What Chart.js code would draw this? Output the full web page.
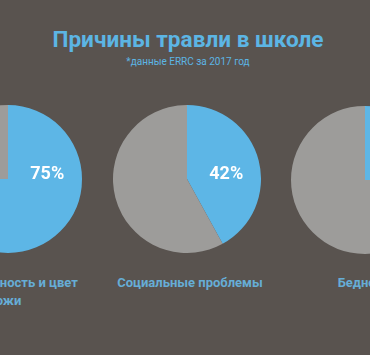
<!DOCTYPE html>
<html>
<head>
<meta charset="utf-8">
<script src="https://cdn.jsdelivr.net/npm/chart.js@4"></script>
<style>
  html, body { margin:0; padding:0; }
  body { width:370px; height:355px; overflow:hidden; background:#59534f; position:relative; font-family: Roboto, "Noto Sans", sans-serif; }
  .title { position:absolute; left:3px; width:370px; top:29.2px; text-align:center; font-size:22.6px; line-height:22px; font-weight:bold; color:#5cb5e4; white-space:nowrap; }
  .sub { position:absolute; left:3px; width:370px; top:56.6px; text-align:center; font-size:10px; line-height:10px; color:#5cb5e4; white-space:nowrap; }
  .pie { position:absolute; width:148px; height:148px; }
  .cat { position:absolute; top:274px; width:160px; text-align:center; font-size:13px; line-height:18px; font-weight:bold; color:#66add6; }
</style>
</head>
<body>
<div class="title">Причины травли в школе</div>
<div class="sub">*данные ERRC за 2017 год</div>
<div id="wrap"></div>
<script>
const categories = ["Национальность и цвет кожи", "Социальные проблемы", "Бедность"];
const shares = [75, 42, 25];
const restShares = [25, 58, 75];

const blue = "#5db6e6";
const gray = "#9d9c9a";
const centersX = [8, 187, 365];
const centersY = [179, 179, 180];
const labelShift = [-3, 3, 2];
const R = 74;

const pctLabels = {
  id: "pctLabels",
  afterDatasetsDraw(chart) {
    const arc = chart.getDatasetMeta(0).data[0];
    const ctx = chart.ctx;
    ctx.save();
    ctx.fillStyle = "#ffffff";
    ctx.font = "bold 18px Roboto, sans-serif";
    ctx.textAlign = "center";
    ctx.textBaseline = "alphabetic";
    ctx.fillText(chart.data.datasets[0].data[0] + "%", arc.x + arc.outerRadius * 0.53, arc.y + 0.3);
    ctx.restore();
  }
};

const wrap = document.getElementById("wrap");
categories.forEach((cat, i) => {
  const cv = document.createElement("canvas");
  cv.width = 2 * R; cv.height = 2 * R;
  cv.className = "pie";
  cv.style.left = (centersX[i] - R) + "px";
  cv.style.top = (centersY[i] - R) + "px";
  wrap.appendChild(cv);
  new Chart(cv, {
    type: "pie",
    data: {
      labels: [cat, "другое"],
      datasets: [{ data: [shares[i], restShares[i]], backgroundColor: [blue, gray], borderWidth: 0 }]
    },
    options: {
      responsive: false,
      animation: false,
      layout: { padding: 0 },
      plugins: { legend: { display: false }, tooltip: { enabled: false } }
    },
    plugins: [pctLabels]
  });
  const lab = document.createElement("div");
  lab.className = "cat";
  lab.textContent = cat;
  lab.style.left = (centersX[i] + labelShift[i] - 80) + "px";
  document.body.appendChild(lab);
});
</script>
</body>
</html>
